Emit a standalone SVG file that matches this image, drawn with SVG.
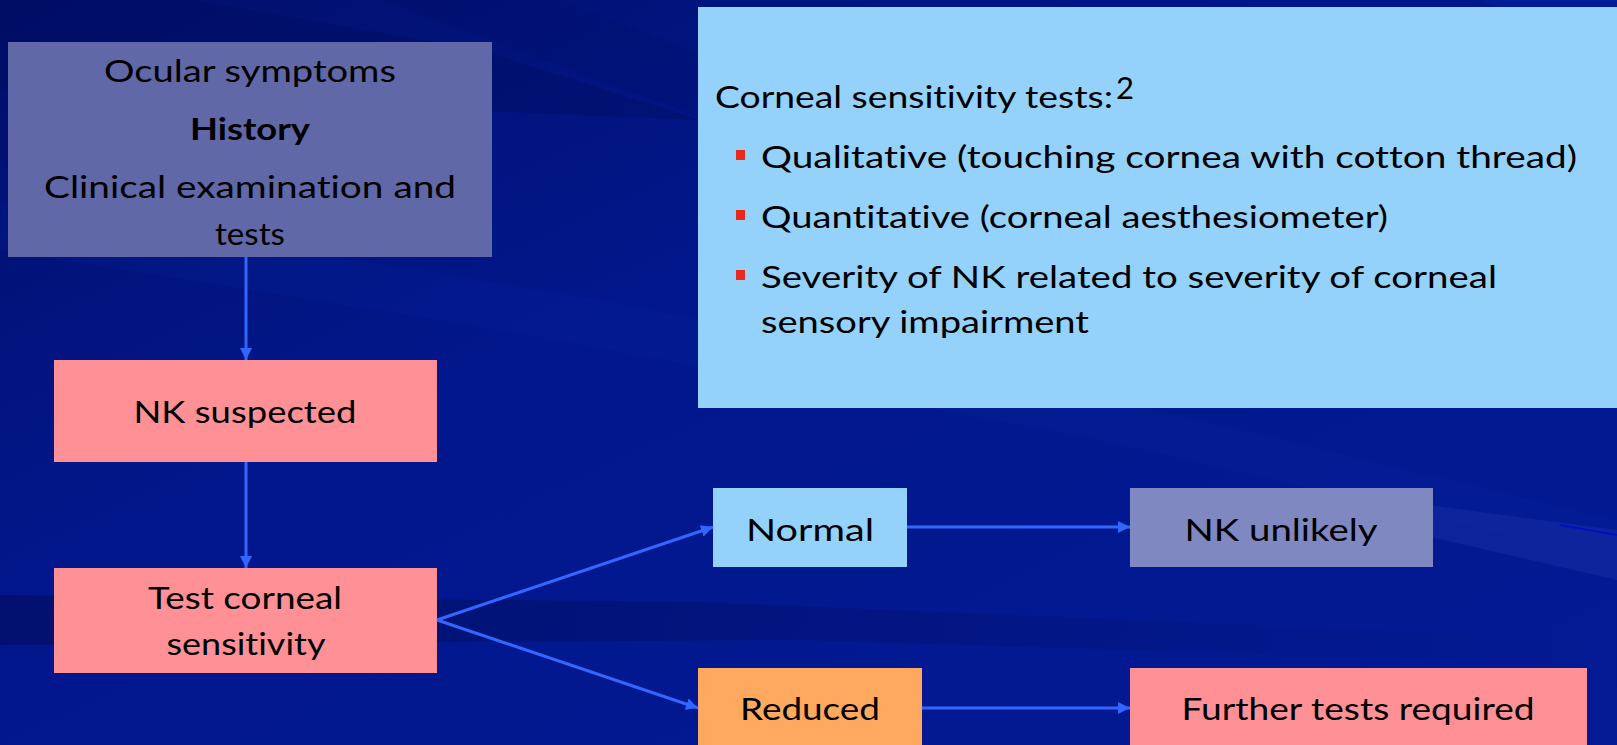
<svg xmlns="http://www.w3.org/2000/svg" width="1617" height="745" viewBox="0 0 1617 745">
<style>
.t{font-family:Lato,"Open Sans","Liberation Sans",sans-serif;font-size:31px;fill:#000;font-variant-ligatures:none}
.c{text-anchor:middle}
.conn{stroke:#3366ff;stroke-width:3;fill:none}
</style>
<defs>
<linearGradient id="bg" x1="0" y1="0" x2="1" y2="1">
<stop offset="0" stop-color="#010f6a"/>
<stop offset="0.4" stop-color="#02178c"/>
<stop offset="1" stop-color="#031a95"/>
</linearGradient>
<linearGradient id="band" x1="0" y1="0" x2="1" y2="0">
<stop offset="0" stop-color="#000a50" stop-opacity="0.5"/>
<stop offset="0.6" stop-color="#000a50" stop-opacity="0.2"/>
<stop offset="1" stop-color="#000a50" stop-opacity="0"/>
</linearGradient>
<marker id="ah" viewBox="0 0 12 12" refX="12" refY="6" markerWidth="4" markerHeight="4" orient="auto" markerUnits="strokeWidth">
<path d="M0,0 L12,6 L0,12 z" fill="#3366ff"/>
</marker>
</defs>
<g id="background">
<rect width="1617" height="745" fill="url(#bg)"/>
<polygon points="0,0 190,0 480,50 700,120 0,90" fill="#000c5c" opacity="0.35"/>
<polygon points="380,0 560,0 1000,170 1617,330 1617,380 900,190" fill="#000c5c" opacity="0.18"/>
<polygon points="1480,0 1617,0 1617,60" fill="#041e9c" opacity="0.6"/>
<polygon points="0,200 600,300 1200,420 1617,520 1617,560 1100,440 500,330 0,250" fill="#0a24a0" opacity="0.2"/>
<polygon points="0,595 700,602 1617,640 1617,665 800,640 0,645" fill="url(#band)"/>
<polygon points="1390,500 1617,530 1617,580 1400,530" fill="#1a30a8" opacity="0.45"/>
<line x1="1560" y1="525" x2="1617" y2="535" stroke="#0010c0" stroke-width="2"/>
</g>
<g id="n-history">
<rect x="8" y="42" width="484" height="215" fill="#6068a8"/>
<text class="t c" x="250" y="82" textLength="292" lengthAdjust="spacingAndGlyphs">Ocular symptoms</text>
<text class="t c" x="250" y="140" font-weight="bold" textLength="120" lengthAdjust="spacingAndGlyphs">History</text>
<text class="t c" x="250" y="198" textLength="412" lengthAdjust="spacingAndGlyphs">Clinical examination and</text>
<text class="t c" x="250" y="245" textLength="70" lengthAdjust="spacingAndGlyphs">tests</text>
</g>
<g id="n-info">
<rect x="698" y="7" width="919" height="401" fill="#94d2fc"/>
<text class="t" x="715" y="108" textLength="398" lengthAdjust="spacingAndGlyphs">Corneal sensitivity tests:</text>
<text class="t" x="1116" y="99" font-size="16">2</text>
<rect x="736" y="150" width="9" height="10" fill="#e8281e"/>
<text class="t" x="761" y="168" textLength="816" lengthAdjust="spacingAndGlyphs">Qualitative (touching cornea with cotton thread)</text>
<rect x="736" y="210" width="9" height="10" fill="#e8281e"/>
<text class="t" x="761" y="228" textLength="627" lengthAdjust="spacingAndGlyphs">Quantitative (corneal aesthesiometer)</text>
<rect x="736" y="270" width="9" height="10" fill="#e8281e"/>
<text class="t" x="761" y="288" textLength="736" lengthAdjust="spacingAndGlyphs">Severity of NK related to severity of corneal</text>
<text class="t" x="761" y="333" textLength="328" lengthAdjust="spacingAndGlyphs">sensory impairment</text>
</g>
<g id="n-suspected">
<rect x="54" y="360" width="383" height="102" fill="#ff9096"/>
<text class="t c" x="245" y="423" textLength="223" lengthAdjust="spacingAndGlyphs">NK suspected</text>
</g>
<g id="n-test">
<rect x="54" y="568" width="383" height="105" fill="#ff9096"/>
<text class="t c" x="245" y="609" textLength="194" lengthAdjust="spacingAndGlyphs">Test corneal</text>
<text class="t c" x="246" y="655" textLength="159" lengthAdjust="spacingAndGlyphs">sensitivity</text>
</g>
<g id="n-normal">
<rect x="713" y="488" width="194" height="79" fill="#94d2fc"/>
<text class="t c" x="810" y="541" textLength="128" lengthAdjust="spacingAndGlyphs">Normal</text>
</g>
<g id="n-unlikely">
<rect x="1130" y="488" width="303" height="79" fill="#7f88c0"/>
<text class="t c" x="1281" y="541" textLength="193" lengthAdjust="spacingAndGlyphs">NK unlikely</text>
</g>
<g id="n-reduced">
<rect x="698" y="668" width="224" height="77" fill="#ffa960"/>
<text class="t c" x="810" y="720" textLength="140" lengthAdjust="spacingAndGlyphs">Reduced</text>
</g>
<g id="n-further">
<rect x="1130" y="668" width="457" height="77" fill="#ff9096"/>
<text class="t c" x="1358" y="720" textLength="353" lengthAdjust="spacingAndGlyphs">Further tests required</text>
</g>
<g id="connectors">
<line class="conn" x1="246" y1="257" x2="246" y2="360" marker-end="url(#ah)"/>
<line class="conn" x1="246" y1="462" x2="246" y2="568" marker-end="url(#ah)"/>
<line class="conn" x1="437" y1="620" x2="713" y2="527" marker-end="url(#ah)"/>
<line class="conn" x1="437" y1="620" x2="698" y2="708" marker-end="url(#ah)"/>
<line class="conn" x1="907" y1="527" x2="1130" y2="527" marker-end="url(#ah)"/>
<line class="conn" x1="922" y1="708" x2="1130" y2="708" marker-end="url(#ah)"/>
</g>
</svg>
